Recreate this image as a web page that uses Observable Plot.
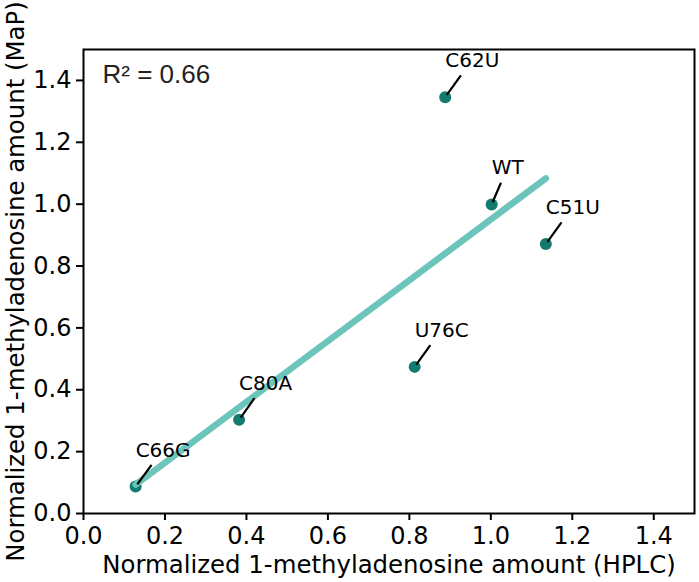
<!DOCTYPE html>
<html><head><meta charset="utf-8">
<script src="https://cdn.jsdelivr.net/npm/d3@7"></script>
<script src="https://cdn.jsdelivr.net/npm/@observablehq/plot@0.6"></script>
<style>body{margin:0;background:#fff}</style>
</head><body><div id="chart"></div>
<script>
const mutants = ["C66G", "C80A", "U76C", "C62U", "WT", "C51U"];
const hplc = [0.128, 0.382, 0.813, 0.888, 1.002, 1.135];
const mapValues = [0.087, 0.303, 0.474, 1.346, 0.999, 0.871];
const xTicks = [0, 0.2, 0.4, 0.6, 0.8, 1.0, 1.2, 1.4];
const yTicks = [0, 0.2, 0.4, 0.6, 0.8, 1.0, 1.2, 1.4];
const r2Label = "R\u00B2 = 0.66";
const xLabel = "Normalized 1-methyladenosine amount (HPLC)";
const yLabel = "Normalized 1-methyladenosine amount (MaP)";

const W = 699, H = 582, mL = 83, mR = 5, mT = 49, mB = 69;
const kx = (W - mL - mR) / 1.5, ky = (H - mT - mB) / 1.5;
const ctx = document.createElement("canvas").getContext("2d");
ctx.font = "20px 'DejaVu Sans'";
const data = mutants.map((m, i) => {
  const w = ctx.measureText(m).width;
  const vx = w / 2, vy = 30 + 7.5;
  return {
    label: m, x: hplc[i], y: mapValues[i],
    x1: hplc[i] + 0.06 * vx / kx, y1: mapValues[i] + 0.06 * vy / ky,
    x2: hplc[i] + 0.58 * vx / kx, y2: mapValues[i] + 0.58 * vy / ky
  };
});

const chart = Plot.plot({
  width: W, height: H,
  marginLeft: mL, marginRight: mR, marginTop: mT, marginBottom: mB,
  style: {fontFamily: "DejaVu Sans", fontSize: "24px", background: "white", color: "black"},
  x: {domain: [0, 1.5]},
  y: {domain: [0, 1.5]},
  marks: [
    Plot.dot(data, {x: "x", y: "y", r: 6, fill: "#127a6e"}),
    Plot.linearRegressionY(data, {x: "x", y: "y", stroke: "#6cc5bb", strokeWidth: 6.5, ci: 0, strokeLinecap: "round"}),
    Plot.link(data, {x1: "x1", y1: "y1", x2: "x2", y2: "y2", stroke: "black", strokeWidth: 2.2}),
    Plot.text(data, {x: "x", y: "y", text: "label", dy: -30, textAnchor: "start", lineAnchor: "bottom", fontSize: 20, fill: "black"}),
    Plot.text([r2Label], {frameAnchor: "top-left", dx: 19, dy: 15, fontSize: 26, fontFamily: "Liberation Sans", textAnchor: "start", lineAnchor: "top", fill: "#222"}),
    Plot.axisX({ticks: xTicks, tickFormat: d3.format(".1f"), tickSize: 7, tickPadding: 6, strokeWidth: 2, fontSize: 24, label: null}),
    Plot.axisY({ticks: yTicks, tickFormat: d3.format(".1f"), tickSize: 7, tickPadding: 5, strokeWidth: 2, fontSize: 24, label: null}),
    Plot.text([xLabel], {frameAnchor: "bottom", dy: 59, textAnchor: "middle", lineAnchor: "bottom", fontSize: 24.4, fill: "black"}),
    Plot.text([yLabel], {frameAnchor: "left", dx: -60, rotate: -90, textAnchor: "middle", lineAnchor: "bottom", fontSize: 24.4, fill: "black"}),
    Plot.frame({stroke: "black", strokeWidth: 2})
  ]
});
document.getElementById("chart").appendChild(chart);
</script>
</body></html>
